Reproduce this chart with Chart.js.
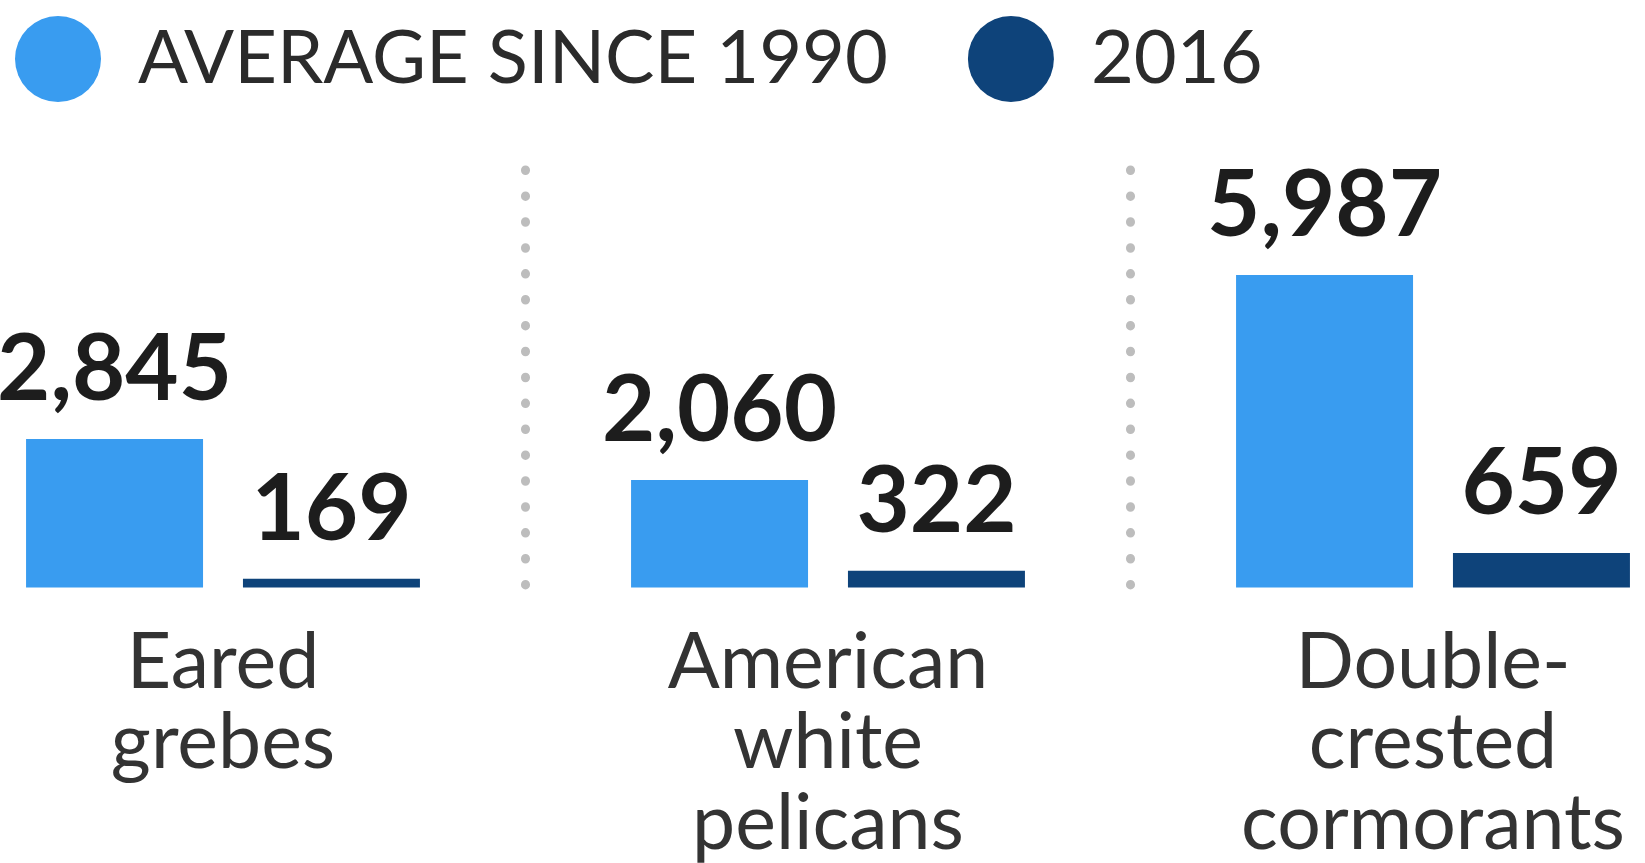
<!DOCTYPE html>
<html>
<head>
<meta charset="utf-8">
<script src="https://cdn.jsdelivr.net/npm/chart.js@4.4.1/dist/chart.umd.min.js"></script>
<style>
  html, body { margin: 0; padding: 0; background: #ffffff; }
  #wrap { width: 1645px; height: 863px; position: relative; }
</style>
</head>
<body>
<div id="wrap"><canvas id="c"></canvas></div>
<script>
// ---- data ----
const categories = [
  ['Eared', 'grebes'],
  ['American', 'white', 'pelicans'],
  ['Double-', 'crested', 'cormorants']
];
const seriesNames = ['AVERAGE SINCE 1990', '2016'];
const averageSince1990 = [2845, 2060, 5987];
const year2016 = [169, 322, 659];
const yTicksMin = 0;
const yTicksMax = 8000;

// ---- layout constants ----
const LEGEND_GAP = 80;            // space between legend items
const PAD_LEFT = 15 - LEGEND_GAP; // legend starts at x = 15
const PAD_TOP = 16 - LEGEND_GAP;  // legend row starts at y = 16
const PLOT_LEFT = 223;
const PAD_RIGHT = 212;

const roundDots = {
  id: 'roundDots',
  beforeDraw(chart) { chart.ctx.lineCap = 'round'; }
};

const valueLabels = {
  id: 'valueLabels',
  afterDatasetsDraw(chart) {
    const ctx = chart.ctx;
    ctx.save();
    ctx.font = 'bold 92px Lato';
    ctx.fillStyle = '#1d1d1d';
    ctx.textAlign = 'center';
    ctx.textBaseline = 'alphabetic';
    chart.data.datasets.forEach((ds, i) => {
      chart.getDatasetMeta(i).data.forEach((el, j) => {
        ctx.fillText(ds.data[j].toLocaleString('en-US'), el.x, el.y - 39);
      });
    });
    ctx.restore();
  }
};

new Chart(document.getElementById('c'), {
  type: 'bar',
  data: {
    labels: categories,
    datasets: [
      { label: seriesNames[0], data: averageSince1990, backgroundColor: '#399cf0', borderWidth: 0,
        categoryPercentage: 0.717, barPercentage: 0.816, clip: false },
      { label: seriesNames[1], data: year2016, backgroundColor: '#0e437a', borderWidth: 0,
        categoryPercentage: 0.717, barPercentage: 0.816, clip: false }
    ]
  },
  options: {
    responsive: true,
    maintainAspectRatio: false,
    animation: false,
    layout: { padding: { left: PAD_LEFT, right: PAD_RIGHT, top: PAD_TOP, bottom: 0 } },
    plugins: {
      legend: {
        position: 'top',
        align: 'start',
        labels: {
          boxWidth: 86,
          boxHeight: 86,
          useBorderRadius: true,
          borderRadius: 43,
          padding: LEGEND_GAP,
          color: '#2b2b2b',
          font: { family: 'Lato', size: 74 }
        }
      },
      tooltip: { enabled: false }
    },
    scales: {
      x: {
        type: 'category',
        offset: false,
        grid: { display: true, offset: true, drawTicks: true, tickLength: 36, tickWidth: 0,
                color: '#bdbdbd', lineWidth: 9, borderDash: [0.5, 25.4] },
        border: { display: false, dash: [0.5, 25.4] },
        ticks: { padding: 0, color: '#333333', autoSkip: false, maxRotation: 0,
                 font: { family: 'Lato', size: 77, lineHeight: 1.04 } },
        afterFit(s) { s.height = 275.5; }
      },
      xTop: {
        type: 'category',
        position: 'top',
        grid: { display: false },
        border: { display: false },
        ticks: { display: false },
        afterFit(s) { s.height = 58; }
      },
      y: {
        min: yTicksMin,
        max: yTicksMax,
        grid: { display: false },
        border: { display: false },
        ticks: { display: false },
        afterFit(s) { s.width = PLOT_LEFT - PAD_LEFT; }
      }
    }
  },
  plugins: [roundDots, valueLabels]
});
</script>
</body>
</html>
